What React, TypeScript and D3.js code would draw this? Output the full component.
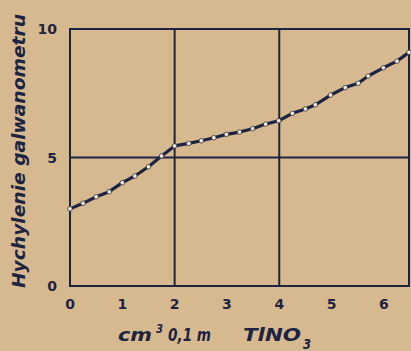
import React from "react";
import * as d3 from "d3";

const xValues = [0, 0.25, 0.5, 0.75, 1.0, 1.24, 1.5, 1.75, 2.0, 2.27, 2.51, 2.75, 2.99, 3.24, 3.49, 3.74, 3.99, 4.25, 4.5, 4.69, 4.98, 5.26, 5.51, 5.7, 5.99, 6.25, 6.48];
const yValues = [3.0, 3.22, 3.47, 3.67, 4.02, 4.28, 4.64, 5.06, 5.45, 5.55, 5.65, 5.77, 5.9, 5.99, 6.12, 6.3, 6.43, 6.72, 6.89, 7.05, 7.43, 7.72, 7.89, 8.17, 8.49, 8.75, 9.09];
const xTicks = [0, 1, 2, 3, 4, 5, 6];
const yTicks = [0, 5, 10];
const xGrid = [2, 4];
const yGrid = [5];

const W = 411, H = 351;
const BG = "#d7b990";
const INK = "#1d2442";

export default function App() {
  const x = d3.scaleLinear().domain([0, 6.48]).range([70, 409]);
  const y = d3.scaleLinear().domain([0, 10]).range([286, 29]);
  const pts = xValues.map((v, i) => [v, yValues[i]] as [number, number]);
  const line = d3.line<[number, number]>().x(d => x(d[0])).y(d => y(d[1]));
  const font = "'DejaVu Sans', sans-serif";
  const tfont = { fontFamily: font, fontWeight: "bold", fontStyle: "italic", fill: INK } as const;
  return (
    <svg width={W} height={H} style={{ position: "absolute", left: 0, top: 0, background: BG }}>
      <rect x={0} y={0} width={W} height={H} fill={BG} />
      <rect x={x(0)} y={y(10)} width={x(6.48) - x(0)} height={y(0) - y(10)} fill="none" stroke={INK} strokeWidth={2} />
      {xGrid.map(g => (
        <line key={"xg" + g} x1={x(g)} x2={x(g)} y1={y(0)} y2={y(10)} stroke={INK} strokeWidth={2} />
      ))}
      {yGrid.map(g => (
        <line key={"yg" + g} x1={x(0)} x2={x(6.48)} y1={y(g)} y2={y(g)} stroke={INK} strokeWidth={2} />
      ))}
      <path d={line(pts) || ""} fill="none" stroke={INK} strokeWidth={3.2} strokeLinejoin="round" />
      {pts.map((p, i) => (
        <circle key={i} cx={x(p[0])} cy={y(p[1])} r={2.3} fill="#f2e8d6" stroke={INK} strokeWidth={0.7} />
      ))}
      {xTicks.map(t => (
        <text key={"xt" + t} x={x(t)} y={309} textAnchor="middle" fontFamily={font} fontWeight="bold" fontSize={14} fill={INK}>{t}</text>
      ))}
      {yTicks.map(t => (
        <text key={"yt" + t} x={57} y={y(t) + 5} textAnchor="end" fontFamily={font} fontWeight="bold" fontSize={14} fill={INK}>{t}</text>
      ))}
      <text x={0} y={0} transform="translate(25,151) rotate(-90)" textAnchor="middle" {...tfont} fontSize={18} textLength={274} lengthAdjust="spacingAndGlyphs">Hychylenie galwanometru</text>
      <text x={118} y={341} {...tfont} fontSize={18} textLength={34} lengthAdjust="spacingAndGlyphs">cm</text>
      <text x={156} y={333} {...tfont} fontSize={13} textLength={7} lengthAdjust="spacingAndGlyphs">3</text>
      <text x={168} y={341} {...tfont} fontSize={18} textLength={43} lengthAdjust="spacingAndGlyphs">0,1 m</text>
      <text x={243} y={341} {...tfont} fontSize={18} textLength={58} lengthAdjust="spacingAndGlyphs">TlNO</text>
      <text x={303} y={349} {...tfont} fontSize={14} textLength={8} lengthAdjust="spacingAndGlyphs">3</text>
    </svg>
  );
}
